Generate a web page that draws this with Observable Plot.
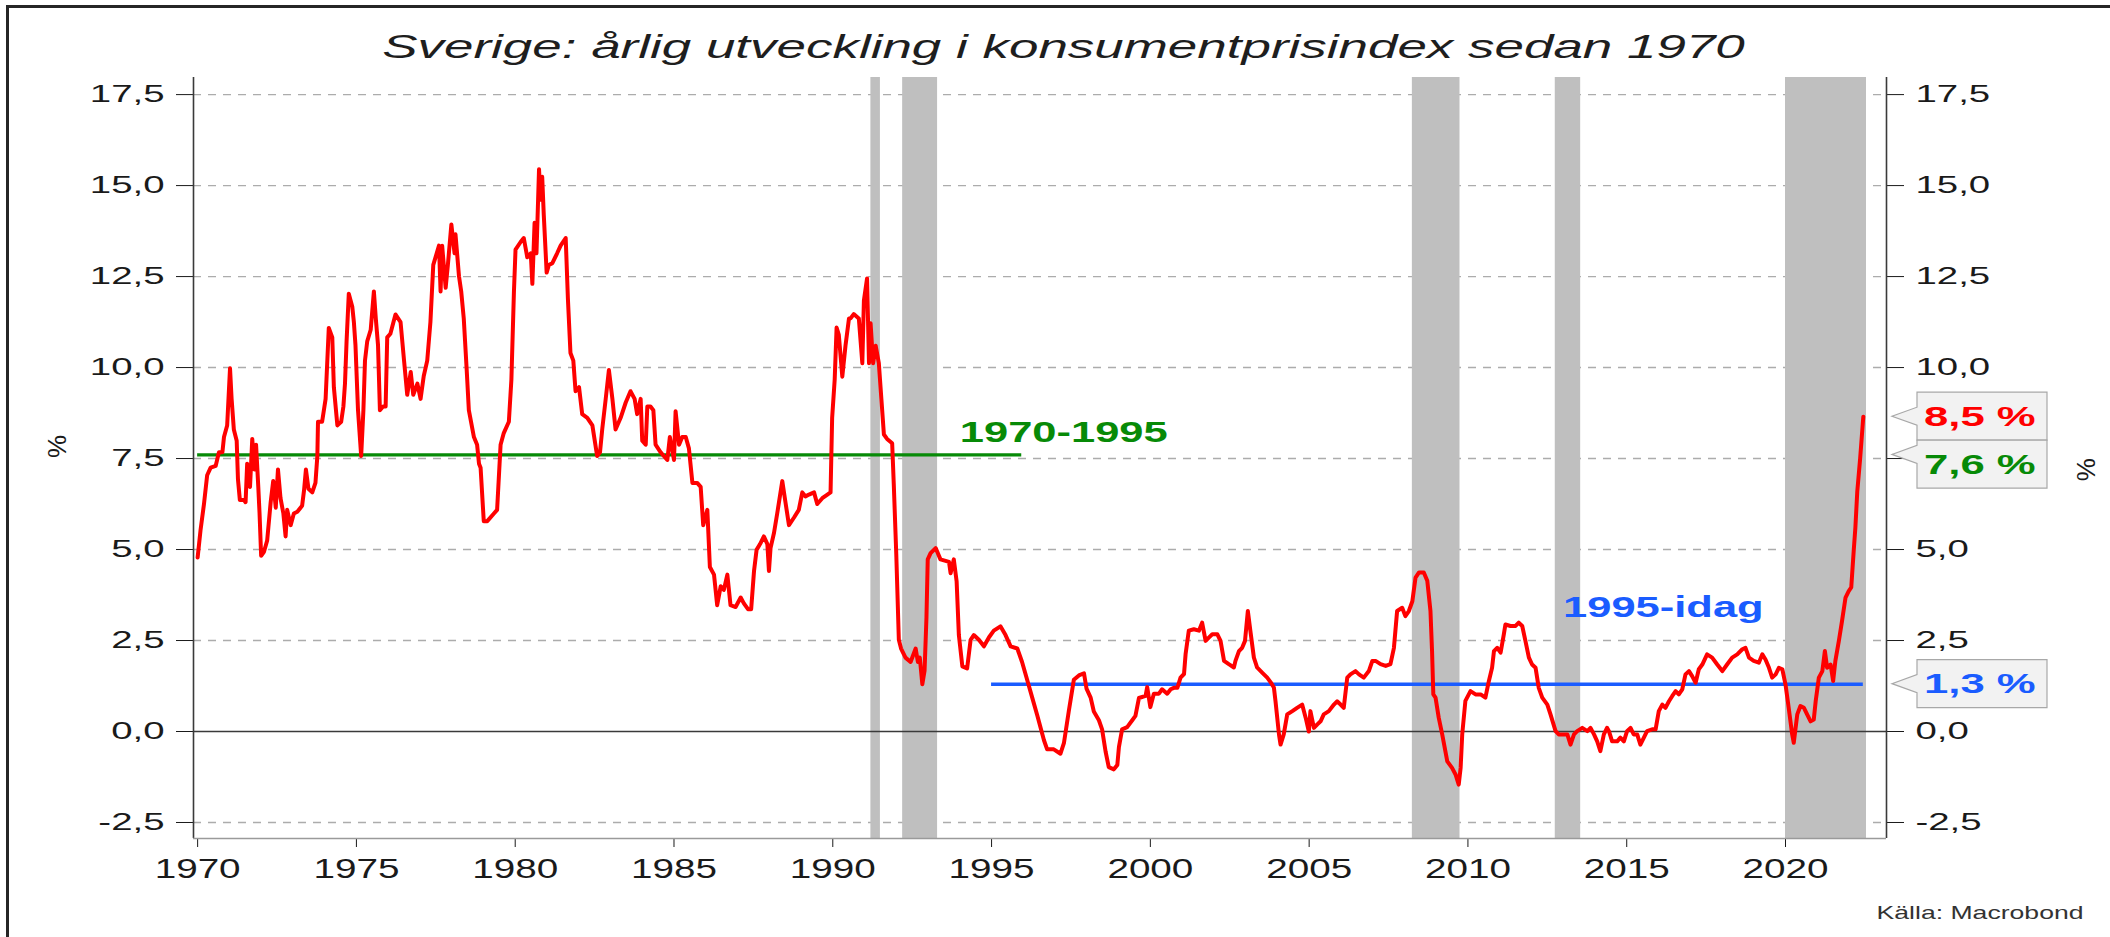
<!DOCTYPE html>
<html>
<head>
<meta charset="utf-8">
<script src="https://cdn.jsdelivr.net/npm/d3@7"></script>
<script src="https://cdn.jsdelivr.net/npm/@observablehq/plot@0.6"></script>
<style>
  html, body { margin: 0; padding: 0; background: #fff; overflow: hidden; }
  #wrap { position: relative; width: 2110px; height: 937px; overflow: hidden; }
  #wrap svg { position: absolute; left: 0; top: 0; }
  #frame { position: absolute; left: 6px; top: 5px; width: 2120px; height: 950px;
           border-left: 3px solid #262626; border-top: 3px solid #262626; pointer-events: none; }
</style>
</head>
<body>
<div id="wrap"><div id="frame"></div></div>
<script>
// ---------- texts ----------
const titleText = "Sverige: årlig utveckling i konsumentprisindex sedan 1970";
const captionText = "Källa: Macrobond";
const axisUnit = "%";

// ---------- series: annual CPI change (%), decimal years ----------
const years = [
1970.00,1970.09,1970.20,1970.30,1970.41,1970.57,1970.67,1970.78,1970.83,1970.93,
1971.02,1971.07,1971.14,1971.23,1971.27,1971.33,1971.46,1971.51,1971.56,1971.65,
1971.72,1971.79,1971.84,1971.91,1971.95,1972.00,1972.09,1972.19,1972.30,1972.38,
1972.46,1972.53,1972.61,1972.70,1972.77,1972.82,1972.93,1973.03,1973.14,1973.29,
1973.35,1973.41,1973.49,1973.61,1973.71,1973.77,1973.79,1973.92,1974.03,1974.13,
1974.24,1974.29,1974.40,1974.52,1974.59,1974.64,1974.69,1974.76,1974.87,1974.92,
1974.97,1975.05,1975.15,1975.22,1975.27,1975.34,1975.45,1975.55,1975.61,1975.68,
1975.74,1975.84,1975.92,1975.97,1976.07,1976.23,1976.39,1976.50,1976.60,1976.71,
1976.79,1976.92,1977.02,1977.12,1977.23,1977.33,1977.42,1977.60,1977.65,1977.70,
1977.81,1977.88,1977.99,1978.09,1978.12,1978.23,1978.30,1978.38,1978.47,1978.54,
1978.70,1978.80,1978.86,1978.91,1979.01,1979.12,1979.33,1979.43,1979.54,1979.64,
1979.80,1979.88,1979.96,1980.01,1980.17,1980.27,1980.38,
1980.49,1980.54,1980.61,1980.67,1980.75,1980.80,1980.85,1980.90,1980.99,1981.06,
1981.17,1981.32,1981.43,1981.59,1981.66,1981.74,1981.83,1981.90,1982.01,1982.11,
1982.27,1982.43,1982.58,1982.67,1982.74,1982.85,1982.95,1983.06,1983.16,1983.32,
1983.48,1983.63,1983.76,1983.84,1983.95,1984.00,1984.11,1984.16,1984.26,1984.35,
1984.42,1984.58,1984.68,1984.79,1984.87,1985.00,1985.05,1985.16,1985.26,1985.37,
1985.47,1985.58,1985.73,1985.84,1985.92,1986.05,1986.13,1986.26,1986.36,1986.47,
1986.57,1986.68,1986.78,1986.94,1987.10,1987.20,1987.33,1987.43,1987.52,1987.60,
1987.71,1987.83,1987.94,1987.99,1988.04,1988.15,1988.25,1988.41,1988.51,1988.62,
1988.78,1988.93,1989.04,1989.14,1989.25,1989.41,1989.51,1989.67,1989.83,1989.93,
1989.98,1990.06,1990.12,1990.19,1990.30,1990.40,1990.51,
1990.56,1990.66,1990.82,1990.93,1990.98,1991.08,1991.14,1991.19,1991.27,1991.35,
1991.45,1991.53,1991.61,1991.71,1991.87,1991.92,1992.00,1992.08,1992.15,1992.29,
1992.45,1992.61,1992.68,1992.74,1992.82,1992.89,1992.95,1992.99,1993.08,1993.24,
1993.39,1993.66,1993.71,1993.81,1993.90,1993.97,1994.08,1994.23,1994.34,1994.44,
1994.60,1994.76,1994.92,1995.07,1995.28,1995.44,1995.60,1995.81,1995.96,1996.12,
1996.28,1996.44,1996.65,1996.75,1996.96,1997.17,1997.28,1997.43,1997.59,1997.75,
1997.91,1997.99,1998.12,1998.22,1998.38,1998.48,1998.59,1998.69,1998.85,1998.96,
1999.01,1999.11,1999.27,1999.43,1999.53,1999.64,1999.85,1999.90,2000.00,2000.11,
2000.27,2000.37,2000.53,2000.64,
2000.74,2000.85,2000.95,2001.06,2001.11,2001.21,2001.37,2001.53,2001.63,2001.74,
2001.84,2001.95,2002.11,2002.21,2002.32,2002.47,2002.63,2002.68,2002.79,2002.89,
2002.98,2003.07,2003.15,2003.26,2003.36,2003.52,2003.68,2003.79,2003.89,2003.94,
2004.05,2004.10,2004.20,2004.31,2004.47,2004.62,2004.78,2004.89,2004.99,2005.04,
2005.15,2005.25,2005.36,2005.46,2005.62,2005.78,2005.88,2005.99,2006.09,2006.20,
2006.30,2006.46,2006.57,2006.72,2006.88,2006.99,2007.09,2007.25,2007.41,2007.56,
2007.67,2007.77,2007.93,2008.03,2008.14,2008.25,2008.35,2008.46,2008.61,2008.72,
2008.82,2008.87,2008.91,2008.98,2009.08,2009.19,2009.35,2009.50,2009.61,2009.71,
2009.77,2009.82,2009.92,2010.08,2010.24,2010.40,2010.55,
2010.66,2010.76,2010.82,2010.92,2011.03,2011.13,2011.18,2011.34,2011.50,2011.60,
2011.71,2011.81,2011.92,2012.02,2012.13,2012.23,2012.34,2012.50,2012.60,2012.76,
2012.86,2012.97,2013.13,2013.23,2013.34,2013.44,2013.60,2013.76,2013.86,2013.97,
2014.07,2014.17,2014.28,2014.38,2014.44,2014.54,2014.70,2014.80,2014.91,2015.01,
2015.12,2015.22,2015.33,2015.43,2015.54,2015.64,2015.80,2015.91,2016.01,2016.12,
2016.22,2016.33,2016.43,2016.54,2016.64,2016.75,2016.85,2016.96,2017.06,2017.17,
2017.27,2017.38,2017.53,2017.69,2017.85,2018.01,2018.16,2018.32,2018.48,2018.64,
2018.74,2018.85,2019.00,2019.16,2019.27,2019.37,2019.48,2019.58,2019.69,2019.79,
2019.90,2020.00,2020.10,2020.21,2020.26,2020.37,2020.47,2020.58,2020.68,2020.79,
2020.89,2020.95,2021.05,2021.16,2021.24,2021.31,2021.42,2021.50,2021.57,2021.68,
2021.78,2021.89,2021.99,2022.07,2022.15,2022.20,2022.26,2022.35,2022.45
];
const cpi = [
4.78,5.52,6.25,7.04,7.25,7.30,7.67,7.67,8.09,8.41,
9.98,9.14,8.30,7.99,6.93,6.36,6.36,6.30,7.36,6.72,
8.04,7.20,7.88,6.72,5.99,4.83,4.94,5.25,6.30,6.88,
6.15,7.20,6.41,5.99,5.36,6.09,5.67,5.99,6.04,6.20,
6.62,7.20,6.67,6.57,6.83,7.57,8.51,8.51,9.14,11.09,
10.83,9.46,8.41,8.51,8.93,9.56,10.72,12.03,11.67,11.25,
10.62,8.83,7.57,8.83,10.19,10.72,11.04,12.09,11.35,10.62,
8.83,8.93,8.93,10.83,10.93,11.46,11.25,10.19,9.25,9.88,
9.25,9.56,9.14,9.77,10.19,11.25,12.82,13.35,12.09,13.35,
12.19,12.82,13.93,13.14,13.66,12.51,12.09,11.35,9.98,8.83,
8.09,7.88,7.36,7.25,5.78,5.78,5.99,6.09,7.88,8.20,
8.51,9.67,12.09,13.24,13.45,13.56,13.03,
13.14,12.30,13.98,13.14,15.45,14.61,15.24,14.19,12.61,12.82,
12.87,13.14,13.35,13.56,11.88,10.40,10.19,9.35,9.46,8.72,
8.62,8.41,7.57,7.67,8.30,9.14,9.93,9.14,8.30,8.62,
9.04,9.35,9.14,8.72,9.14,7.99,7.88,8.93,8.93,8.83,
7.88,7.67,7.57,7.46,8.09,7.46,8.80,7.88,8.09,8.09,
7.78,6.83,6.83,6.72,5.67,6.09,4.52,4.31,3.47,3.99,
3.89,4.31,3.47,3.42,3.68,3.52,3.36,3.36,4.41,4.99,
5.15,5.36,5.15,4.41,5.04,5.46,5.99,6.88,6.30,5.67,
5.88,6.09,6.57,6.46,6.51,6.57,6.25,6.41,6.51,6.57,
8.62,9.67,11.10,10.90,9.75,10.60,11.35,
11.35,11.47,11.35,10.12,11.84,12.45,10.12,11.22,10.12,10.60,
10.12,9.14,8.16,8.04,7.92,6.81,4.85,2.52,2.28,2.03,
1.91,2.28,1.91,2.03,1.30,1.67,3.14,4.73,4.90,5.04,
4.73,4.66,4.35,4.73,4.12,2.65,1.79,1.73,2.52,2.65,
2.52,2.34,2.59,2.77,2.89,2.65,2.34,2.28,1.91,1.42,
0.93,0.44,-0.24,-0.49,-0.49,-0.61,-0.31,0.55,1.42,1.54,
1.60,1.18,0.93,0.55,0.31,0.06,-0.55,-0.98,-1.04,-0.92,
-0.43,0.06,0.12,0.31,0.43,0.92,0.98,1.22,0.67,1.04,
1.04,1.16,1.04,1.16,
1.20,1.20,1.48,1.58,2.13,2.77,2.81,2.77,2.99,2.49,
2.58,2.67,2.67,2.49,1.94,1.85,1.76,1.94,2.21,2.30,
2.49,3.31,2.76,2.03,1.76,1.62,1.48,1.35,1.21,0.84,
-0.08,-0.36,-0.08,0.47,0.56,0.65,0.74,0.38,0.00,0.56,
0.10,0.19,0.28,0.47,0.56,0.74,0.83,0.74,0.65,1.48,
1.57,1.66,1.57,1.48,1.66,1.94,1.94,1.85,1.80,1.85,
2.30,3.31,3.40,3.17,3.31,3.58,4.23,4.37,4.37,4.14,
3.31,2.21,1.02,0.93,0.38,-0.08,-0.82,-1.00,-1.18,-1.46,
-1.00,-0.08,0.84,1.11,1.02,1.02,0.93,
1.39,1.75,2.21,2.30,2.17,2.67,2.94,2.90,2.90,2.99,
2.90,2.49,2.03,1.84,1.75,1.20,0.93,0.74,0.47,0.01,
-0.08,-0.08,-0.08,-0.36,-0.08,0.01,0.10,0.01,0.10,-0.08,
-0.27,-0.54,-0.08,0.10,0.01,-0.27,-0.27,-0.17,-0.27,0.01,
0.10,-0.08,-0.08,-0.36,-0.17,0.01,0.06,0.06,0.56,0.74,
0.65,0.83,0.97,1.11,1.02,1.16,1.57,1.66,1.52,1.34,
1.71,1.84,2.12,2.03,1.84,1.66,1.84,2.03,2.12,2.26,
2.30,2.03,1.94,1.89,2.12,1.98,1.75,1.48,1.57,1.75,
1.71,1.29,0.65,-0.08,-0.31,0.47,0.70,0.65,0.47,0.28,
0.33,0.83,1.48,1.66,2.21,1.75,1.84,1.39,1.94,2.49,
3.04,3.68,3.86,3.96,5.00,5.60,6.60,7.50,8.65
];

// ---------- recessions (grey bars) ----------
const recessionStart = [1991.20, 1992.20, 2008.25, 2012.75, 2020.00];
const recessionEnd   = [1991.50, 1993.30, 2009.75, 2013.55, 2022.55];

// ---------- period averages ----------
const periodLabels = ["1970-1995", "1995-idag"];
const periodStart  = [1970.00, 1995.00];
const periodEnd    = [1995.95, 2022.45];
const periodMean   = [7.6, 1.3];

// ---------- end-of-axis callouts ----------
const calloutLabels = ["8,5 %", "7,6 %", "1,3 %"];

// ---------- ticks ----------
const xTicks = [1970, 1975, 1980, 1985, 1990, 1995, 2000, 2005, 2010, 2015, 2020];
const xTickLabels = ["1970","1975","1980","1985","1990","1995","2000","2005","2010","2015","2020"];
const yTicks = [-2.5, 0, 2.5, 5, 7.5, 10, 12.5, 15, 17.5];
const yTickLabels = ["-2,5","0,0","2,5","5,0","7,5","10,0","12,5","15,0","17,5"];

// ---------- style ----------
const RED = "#ff0000", GREEN = "#078a07", BLUE = "#1a5cff";
const W = 2110, H = 937, mT = 77, mB = 99, mL = 193, mR = 224;
const xDomain = [1969.87, 2023.18];
const yDomain = [-2.94, 17.97];
const FONT = "'Liberation Sans', Arial, Helvetica, sans-serif";

const series = years.map((x, i) => ({x, y: cpi[i]}));
const recessions = recessionStart.map((s, i) => ({x1: s, x2: recessionEnd[i]}));
const calloutValues = [cpi[cpi.length - 1], periodMean[0], periodMean[1]];
const calloutColors = [RED, GREEN, BLUE];

const chart = Plot.plot({
  width: W, height: H,
  marginTop: mT, marginBottom: mB, marginLeft: mL, marginRight: mR,
  style: {fontFamily: FONT, fontSize: "24px", color: "#1a1a1a", background: "#fff", overflow: "visible"},
  x: {domain: xDomain, ticks: xTicks, tickFormat: d => xTickLabels[xTicks.indexOf(d)],
      tickSize: 9, tickPadding: 11, label: null},
  y: {domain: yDomain, axis: "both", ticks: yTicks, tickFormat: d => yTickLabels[yTicks.indexOf(d)],
      tickSize: 17, tickPadding: 12, label: null},
  marks: [
    Plot.ruleY(yTicks.filter(d => d !== 0), {stroke: "#acacac", strokeWidth: 1.4, strokeDasharray: "8,7"}),
    Plot.rect(recessions, {x1: "x1", x2: "x2", fill: "#bfbfbf"}),
    Plot.ruleY([0], {stroke: "#3a3a3a", strokeWidth: 1.6}),
    Plot.ruleX(xDomain, {stroke: "#3a3a3a", strokeWidth: 1.6}),
    Plot.ruleY([yDomain[0]], {stroke: "#9a9a9a", strokeWidth: 1.6}),
    Plot.ruleY([periodMean[0]], {x1: () => periodStart[0], x2: () => periodEnd[0], stroke: GREEN, strokeWidth: 3.4}),
    Plot.ruleY([periodMean[1]], {x1: () => periodStart[1], x2: () => periodEnd[1], stroke: BLUE, strokeWidth: 3.6}),
    Plot.line(series, {x: "x", y: "y", stroke: RED, strokeWidth: 4, strokeLinejoin: "round"}),
    Plot.text([periodLabels[0]], {x: () => periodEnd[0], y: () => periodMean[0], text: d => d, dx: 42, dy: -22,
      fill: GREEN, fontWeight: "bold", fontSize: 29}),
    Plot.text([periodLabels[1]], {x: () => periodEnd[1], y: () => periodMean[1], text: d => d, dx: -200, dy: -76,
      fill: BLUE, fontWeight: "bold", fontSize: 29}),
    Plot.text([titleText], {frameAnchor: "top", text: d => d, dx: 23.5, dy: -20, lineAnchor: "bottom",
      fontSize: 33, fontStyle: "italic", fill: "#1e1e1e"}),
    Plot.text([captionText], {frameAnchor: "bottom-right", text: d => d, dx: 197, dy: 80, textAnchor: "end",
      lineAnchor: "bottom", fontSize: 19, fill: "#333"}),
    Plot.text([axisUnit], {frameAnchor: "left", text: d => d, dx: -136, rotate: -90, fontSize: 26, fill: "#1a1a1a"}),
    Plot.text([axisUnit], {frameAnchor: "right", text: d => d, dx: 200, rotate: -90, fontSize: 26, fill: "#1a1a1a"})
  ]
});

const wrap = document.getElementById("wrap");
wrap.insertBefore(chart, wrap.firstChild);

// horizontal stretch of text glyphs around their anchor (the reference is horizontally stretched)
function stretch(t, s) {
  const x = t.getAttribute("x");
  let extra = "";
  if (x !== null && x !== "" && !isNaN(+x)) { extra = ` translate(${+x},0)`; t.removeAttribute("x"); }
  const tr = t.getAttribute("transform") || "";
  t.setAttribute("transform", `${tr}${extra} scale(${s},1)`);
}
const hidden = [];
chart.querySelectorAll("text").forEach(t => {
  const g = t.closest("[aria-label]");
  const lab = g ? g.getAttribute("aria-label") : "";
  const content = t.textContent;
  if (lab.startsWith("x-axis")) { t.style.fontSize = "28px"; stretch(t, 1.38); }
  else if (lab.startsWith("y-axis")) {
    // the right-axis label under the "7,6 %" callout is hidden in the reference
    if (getComputedStyle(t).textAnchor === "start" && content === yTickLabels[yTicks.indexOf(7.5)]) hidden.push(t);
    stretch(t, 1.6);
  }
  else if (periodLabels.includes(content)) { stretch(t, 1.5); }
  else if (content === captionText) { stretch(t, 1.4); }
  else if (content === titleText) {
    const w = t.getBBox().width;
    stretch(t, w > 0 ? 1364 / w : 1.6);
  }
});
hidden.forEach(t => t.remove());

// callouts at the right axis
const yS = chart.scale("y");
const frameRight = W - mR;
const boxX = frameRight + 31, boxW = 130, boxH = 48, tipX = frameRight + 6;
const callouts = calloutLabels
  .map((label, i) => ({label, py: yS.apply(calloutValues[i]), color: calloutColors[i]}))
  .sort((a, b) => a.py - b.py);
const layer = d3.select(chart).append("g").attr("aria-label", "callouts").attr("text-anchor", "start");
let prevBottom = -Infinity;
for (const c of callouts) {
  const cy = Math.max(c.py, prevBottom + boxH / 2);
  const top = cy - boxH / 2, bottom = cy + boxH / 2;
  prevBottom = bottom;
  const nb = Math.min(Math.max(c.py, top + 10), bottom - 10);
  layer.append("path")
    .attr("d", `M${boxX},${top}H${boxX + boxW}V${bottom}H${boxX}V${nb + 9}L${tipX},${c.py}L${boxX},${nb - 9}Z`)
    .attr("fill", "#f2f2f2").attr("stroke", "#a8a8a8").attr("stroke-width", 1.2);
  layer.append("text")
    .attr("transform", `translate(${boxX + 7},${cy}) scale(1.56,1)`)
    .attr("text-anchor", "start")
    .attr("dy", "0.35em").attr("fill", c.color)
    .attr("font-family", FONT).attr("font-weight", "bold").attr("font-size", 28)
    .text(c.label);
}
</script>
</body>
</html>
